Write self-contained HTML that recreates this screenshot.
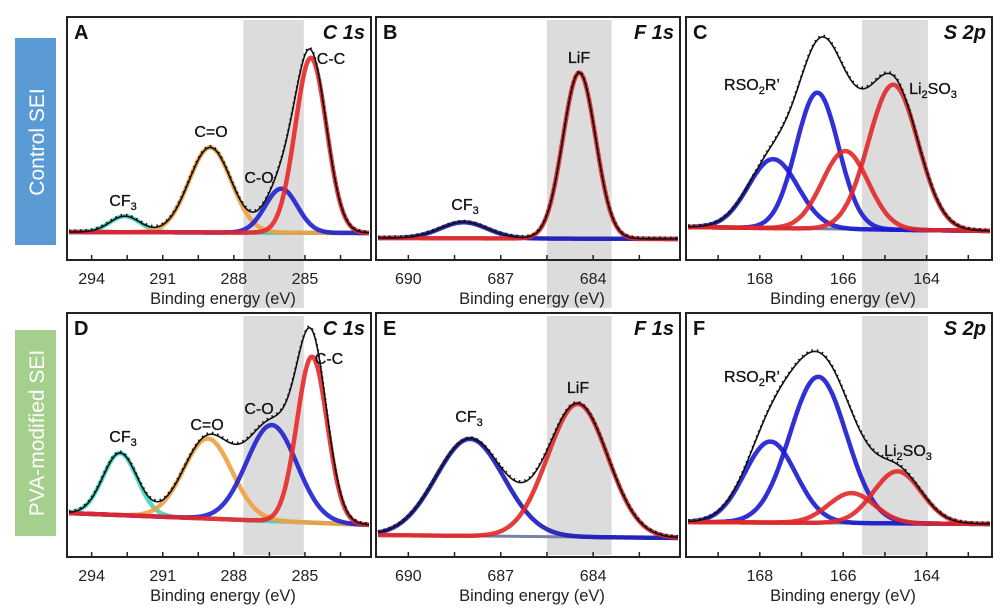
<!DOCTYPE html>
<html><head><meta charset="utf-8">
<style>
html,body{margin:0;padding:0;background:#fff;}
svg{display:block;font-family:"Liberation Sans",sans-serif;}
</style></head>
<body>
<svg id="fig" width="1001" height="614" viewBox="0 0 1001 614" xmlns="http://www.w3.org/2000/svg">
<rect x="0" y="0" width="1001" height="614" fill="#fff"/>
<rect x="15" y="38" width="41" height="207" fill="#5b9bd5"/>
<text transform="translate(44,142) rotate(-90)" text-anchor="middle" fill="#fff" font-size="21">Control SEI</text>
<rect x="15" y="330" width="41" height="206" fill="#a4cf8c"/>
<text transform="translate(44,433) rotate(-90)" text-anchor="middle" fill="#fff" font-size="21">PVA-modified SEI</text>
<g id="plots"></g>
</svg>
<script>
// ---- data: peak centers (eV), heights (counts, a.u.), FWHM (eV) ----
const aCenters=[292.6,289.0,286.0,284.75];
const aHeights=[16,85,44,175];
const aWidths=[1.5,2.1,1.6,1.55];
const bCenters=[688.2,684.45];
const bHeights=[16,166];
const bWidths=[1.8,1.25];
const cCenters=[167.68,166.62,165.95,164.8];
const cHeights=[69,136,78,145];
const cWidths=[1.4,1.2,1.3,1.4];
const dCenters=[292.8,289.1,286.4,284.7];
const dHeights=[62,80,96,166];
const dWidths=[1.7,2.4,2.5,1.5];
const eCenters=[688.0,684.5];
const eHeights=[97,133];
const eWidths=[2.6,2.3];
const fCenters=[167.75,166.6,165.8,164.7];
const fHeights=[81,146,30,52];
const fWidths=[1.45,1.6,1.3,1.35];
const cTicksMajor=[294,291,288,285];
const cTicksMinor=[292.5,289.5,286.5,283.5];
const fTicksMajor=[690,687,684];
const fTicksMinor=[688.5,685.5,682.5];
const sTicksMajor=[168,166,164];
const sTicksMinor=[169,167,165,163];

const NS="http://www.w3.org/2000/svg";
const root=document.getElementById('plots');
function mk(tag,attrs,parent){const e=document.createElementNS(NS,tag);for(const k in attrs)e.setAttribute(k,attrs[k]);(parent||root).appendChild(e);return e;}

const panels=[
 {id:'a',letter:'A',title:'C 1s',x0:67,x1:371,top:17,bot:260,eL:295.04,k:23.7,band:[287.6,285.05],bandBot:308,bl:[232,233],
  c:aCenters,h:aHeights,w:aWidths,col:['#3fd6c6','#f0a040','#2020d0','#e82828'],maj:cTicksMajor,min:cTicksMinor,
  labels:[['CF','3',123,206],['C=O','',211,137],['C-O','',259,183],['C-C','',331,64]]},
 {id:'b',letter:'B',title:'F 1s',x0:376,x1:680,top:17,bot:260,eL:691.05,k:30.8,band:[685.5,683.4],bandBot:308,bl:[238,239],
  c:bCenters,h:bHeights,w:bWidths,col:['#1a1ab8','#e02828'],maj:fTicksMajor,min:fTicksMinor,
  labels:[['CF','3',465,210],['LiF','',579,63]]},
 {id:'c',letter:'C',title:'S 2p',x0:686,x1:992,top:17,bot:260,eL:169.77,k:41.7,band:[165.55,163.97],bandBot:308,bl:[227,231],
  c:cCenters,h:cHeights,w:cWidths,col:['#1a1ad0','#1a1ad0','#e02828','#e02828'],maj:sTicksMajor,min:sTicksMinor,
  labels:[['RSO','2',752,90,'R\u2019'],['Li','2',933,94,'SO','3']]},
 {id:'d',letter:'D',title:'C 1s',x0:67,x1:371,top:313,bot:557,eL:295.04,k:23.7,band:[287.6,285.05],bandBot:555,bl:[513,525],
  c:dCenters,h:dHeights,w:dWidths,col:['#3fd6c6','#f0a040','#2020d0','#e82828'],maj:cTicksMajor,min:cTicksMinor,
  labels:[['CF','3',123,442],['C=O','',207,430],['C-O','',259,414],['C-C','',329,364]]},
 {id:'e',letter:'E',title:'F 1s',x0:376,x1:680,top:313,bot:557,eL:691.05,k:30.8,band:[685.5,683.4],bandBot:555,bl:[535,538],
  c:eCenters,h:eHeights,w:eWidths,col:['#1a1ab8','#e02828'],maj:fTicksMajor,min:fTicksMinor,
  labels:[['CF','3',469,422],['LiF','',578,393]]},
 {id:'f',letter:'F',title:'S 2p',x0:686,x1:992,top:313,bot:557,eL:169.77,k:41.7,band:[165.55,163.97],bandBot:555,bl:[522,524],
  c:fCenters,h:fHeights,w:fWidths,col:['#1a1ad0','#1a1ad0','#e02828','#e02828'],maj:sTicksMajor,min:sTicksMinor,
  labels:[['RSO','2',752,382,'R\u2019'],['Li','2',908,456,'SO','3']]}
];

panels.forEach(p=>{
 const g=mk('g',{});
 
 
 const X=e=>p.x0+(p.eL-e)*p.k;
 const base=x=>p.bl[0]+(p.bl[1]-p.bl[0])*(x-p.x0)/(p.x1-p.x0);
 const gauss=(e,i)=>p.h[i]*Math.exp(-4*Math.LN2*Math.pow((e-p.c[i])/p.w[i],2));
 const band=mk('rect',{x:X(p.band[0]),y:p.top+3,width:X(p.band[1])-X(p.band[0]),height:p.bandBot-p.top-3,fill:'#dcdcdc'},g);
 
 
 const clipId='clip-'+p.id;
 const cp=mk('clipPath',{id:clipId},g);mk('rect',{x:p.x0,y:p.top,width:p.x1-p.x0,height:p.bot-p.top},cp);
 const cg=mk('g',{'clip-path':'url(#'+clipId+')'},g);
 const bline=mk('line',{x1:p.x0+2,y1:p.bl[0],x2:p.x1-2,y2:p.bl[1],stroke:'#7a7fa8','stroke-width':3},cg);
 
 
 const N=300;
 p.c.forEach((c,i)=>{
  let d='';
  for(let j=0;j<=N;j++){const x=p.x0+2+(p.x1-p.x0-4)*j/N;const e=p.eL-(x-p.x0)/p.k;const y=base(x)-gauss(e,i);d+=(j?'L':'M')+x.toFixed(1)+' '+y.toFixed(1);}
  const path=mk('path',{d:d,fill:'none',stroke:p.col[i],'stroke-width':4.5,'stroke-opacity':0.9},cg);
  
  
 });
 let d='';
 for(let j=0;j<=N;j++){const x=p.x0+2+(p.x1-p.x0-4)*j/N;const e=p.eL-(x-p.x0)/p.k;let s=0;p.c.forEach((c,i)=>s+=gauss(e,i));d+=(j?'L':'M')+x.toFixed(1)+' '+(base(x)-s).toFixed(1);}
 const env=mk('path',{d:d,fill:'none',stroke:'#111','stroke-width':1.6},cg);
 
 
 const dots=mk('path',{d:d,fill:'none',stroke:'#111','stroke-width':2,'stroke-dasharray':'1.5 4',transform:'translate(0,-1.5)'},cg);
 
 
 const fr=mk('rect',{x:p.x0,y:p.top,width:p.x1-p.x0,height:p.bot-p.top,fill:'none',stroke:'#222','stroke-width':2},g);
 
 
 p.maj.concat(p.min).forEach(t=>{const x=X(t);const tk=mk('line',{x1:x,y1:p.bot,x2:x,y2:p.bot-5,stroke:'#222','stroke-width':1.5},g);
  
  });
 p.maj.forEach(t=>{const tl=mk('text',{x:X(t),y:p.bot+24,'text-anchor':'middle','font-size':16,fill:'#222'},g);tl.textContent=t;
  
  });
 const xt=mk('text',{x:(p.x0+p.x1)/2+4,y:p.bot+44,'text-anchor':'middle','font-size':16.5,fill:'#222'},g);xt.textContent='Binding energy (eV)';
 
 
 const lt=mk('text',{x:p.x0+7,y:p.top+22,'font-size':20,'font-weight':'bold',fill:'#111'},g);lt.textContent=p.letter;
 
 
 const tt=mk('text',{x:p.x1-6,y:p.top+22,'text-anchor':'end','font-size':20,'font-weight':'bold','font-style':'italic',fill:'#111'},g);tt.textContent=p.title;
 
 
 p.labels.forEach(L=>{
  const t=mk('text',{x:L[2],y:L[3],'text-anchor':'middle','font-size':16,fill:'#111','stroke':'#111','stroke-width':0.3},g);
  
  
  const s1=mk('tspan',{},t);s1.textContent=L[0];
  if(L[1]){const s2=mk('tspan',{dy:4,'font-size':11},t);s2.textContent=L[1];}
  if(L[4]){const s3=mk('tspan',{dy:-4},t);s3.textContent=L[4];}
  if(L[5]){const s4=mk('tspan',{dy:4,'font-size':11},t);s4.textContent=L[5];}
 });
});
</script>
</body></html>
